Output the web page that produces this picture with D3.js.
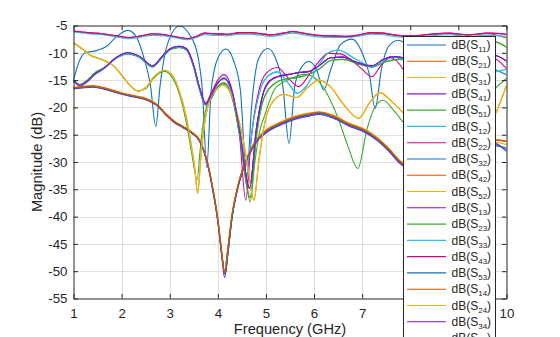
<!DOCTYPE html>
<html><head><meta charset="utf-8">
<script src="https://cdn.jsdelivr.net/npm/d3@7"></script>
<style>
body{margin:0;background:#fff;}
svg{display:block;font-family:"Liberation Sans",Arial,Helvetica,sans-serif;}
</style>
</head><body>
<svg id="chart" width="560" height="337"></svg>
<script>
// ---- tick labels ----
const freqTicks = [1,2,3,4,5,6,7,8,9,10];
const dbTicks = [-55,-50,-45,-40,-35,-30,-25,-20,-15,-10,-5];

// ---- series values: [frequency GHz, magnitude dB] ----
const s11 = [[1,-15],[1.1,-12],[1.24,-10],[1.48,-9.6],[1.69,-8.8],[1.9,-7],[2.13,-5.9],[2.3,-7],[2.45,-10.5],[2.6,-16],[2.71,-23.5],[2.8,-16],[2.95,-8.5],[3.2,-5.1],[3.4,-6.5],[3.58,-10.4],[3.68,-17],[3.77,-31],[3.86,-17],[4.0,-11],[4.17,-9.3],[4.33,-11.5],[4.47,-17],[4.6,-33],[4.7,-20],[4.85,-11],[5.04,-9.2],[5.2,-11],[5.35,-16],[5.48,-26.6],[5.6,-16],[5.75,-12.5],[5.89,-11.6],[6.05,-13],[6.2,-16.8],[6.35,-13],[6.55,-8.5],[6.79,-7.5],[7.0,-10],[7.15,-14],[7.27,-20.2],[7.4,-13],[7.55,-8.8],[7.75,-7.7],[8.0,-9],[8.4,-14],[8.8,-10],[9.2,-9],[9.5,-11],[9.75,-12.9],[10,-14]];

const topMag = [[1,-6.0],[1.3,-6.3],[1.6,-6.5],[1.9,-6.9],[2.15,-7.2],[2.4,-6.9],[2.65,-6.5],[2.9,-6.7],[3.15,-7.1],[3.38,-7.4],[3.55,-7.0],[3.72,-6.4],[3.95,-6.5],[4.2,-6.6],[4.45,-6.3],[4.7,-6.3],[4.9,-6.5],[5.1,-6.7],[5.35,-6.4],[5.55,-6.1],[5.85,-6.5],[6.1,-6.8],[6.4,-6.9],[6.7,-7.0],[6.95,-6.7],[7.2,-6.3],[7.45,-6.4],[7.75,-6.8],[8,-6.9],[8.4,-6.6],[8.8,-6.4],[9.2,-6.7],[9.6,-6.4],[10,-6.6]];
const topCyan = [[1,-6.2],[1.3,-6.5],[1.6,-6.7],[1.9,-7.1],[2.15,-7.4],[2.4,-7.1],[2.65,-6.8],[2.9,-6.9],[3.15,-7.3],[3.38,-7.6],[3.55,-7.2],[3.72,-6.7],[3.95,-6.8],[4.2,-6.9],[4.45,-6.6],[4.7,-6.6],[4.9,-6.8],[5.1,-7.0],[5.35,-6.7],[5.55,-6.4],[5.85,-6.8],[6.1,-7.1],[6.4,-7.2],[6.7,-7.2],[6.95,-6.9],[7.2,-6.6],[7.45,-6.7],[7.75,-7.1],[8,-7.2],[8.4,-6.9],[8.8,-6.7],[9.2,-7.0],[9.6,-6.8],[10,-7.0]];
const topOrange = [[1,-6.1],[1.3,-6.4],[1.6,-6.6],[1.9,-7.0],[2.15,-7.3],[2.4,-7.0],[2.65,-6.6],[2.9,-6.8],[3.15,-7.2],[3.38,-7.5],[3.55,-7.1],[3.72,-6.5],[3.95,-6.6],[4.2,-6.7],[4.45,-6.4],[4.7,-6.4],[4.9,-6.6],[5.1,-6.8],[5.35,-6.5],[5.55,-6.2],[5.85,-6.6],[6.1,-6.9],[6.4,-7.0],[6.7,-7.1],[6.95,-6.8],[7.2,-6.4],[7.45,-6.5],[7.75,-6.9],[8,-7.0],[8.4,-6.7],[8.8,-6.5],[9.2,-6.8],[9.6,-6.5],[10,-7.3]];

const bPurple = [[1,-15.0],[1.13,-15.9],[1.3,-15.1],[1.44,-13.9],[1.62,-12.9],[1.9,-10.8],[2.13,-10.0],[2.38,-10.7],[2.64,-12.4],[2.85,-10.6],[3.0,-9.3],[3.2,-8.8],[3.35,-9.3],[3.5,-12.4],[3.62,-16.4],[3.75,-19.4],[3.85,-18.0],[4.0,-15.5],[4.13,-14.7],[4.3,-17.3],[4.45,-24],[4.66,-34.8],[4.8,-24],[4.95,-17.2],[5.1,-15],[5.24,-14.4],[5.45,-14],[5.7,-13.6],[5.9,-13.4],[6.1,-12.4],[6.35,-10.9],[6.6,-10.8],[6.9,-11.8],[7.2,-12.4],[7.45,-11.2],[7.65,-10.7],[8.0,-11.2],[8.5,-12.5],[9,-11.5],[9.5,-10.2],[9.75,-10.4],[10,-11.5]];
const bCyan = [[1,-15.2],[1.13,-16.0],[1.3,-15.2],[1.44,-14.0],[1.62,-13.0],[1.9,-10.9],[2.13,-10.1],[2.38,-10.8],[2.64,-12.5],[2.85,-10.7],[3.0,-9.4],[3.2,-8.9],[3.35,-9.4],[3.5,-12.6],[3.62,-16.6],[3.75,-19.5],[3.85,-18.3],[4.0,-15.6],[4.13,-14.5],[4.3,-17.6],[4.45,-24],[4.6,-30.6],[4.75,-22],[4.9,-16.3],[5.05,-14.2],[5.24,-13.5],[5.45,-15.4],[5.65,-17.4],[5.85,-16],[6.1,-12.2],[6.3,-10],[6.5,-9.5],[6.8,-10.8],[7.0,-11.8],[7.2,-12.6],[7.4,-11.6],[7.65,-10.8],[8,-11.6],[8.5,-13],[9,-13.5],[9.5,-13],[9.75,-13.4],[10,-13.0]];
const bGreen = [[1,-15.1],[1.13,-15.8],[1.3,-14.9],[1.44,-13.7],[1.62,-12.8],[1.9,-10.9],[2.13,-10.2],[2.38,-10.9],[2.64,-12.6],[2.85,-10.8],[3.0,-9.5],[3.2,-9.0],[3.35,-9.5],[3.5,-12.7],[3.62,-16.8],[3.75,-19.6],[3.85,-18.6],[4.0,-16.2],[4.13,-15.5],[4.3,-18.2],[4.45,-25],[4.67,-36.5],[4.8,-25.5],[4.95,-18.5],[5.2,-15.5],[5.4,-14.8],[5.6,-14.6],[5.8,-14.2],[6.1,-13],[6.35,-11.4],[6.6,-11.2],[6.9,-12],[7.2,-12.6],[7.5,-11.6],[7.75,-11.2],[8,-11.3],[8.5,-11],[9,-9.5],[9.5,-8.2],[9.75,-8.0],[10,-9.0]];
const bMagenta = [[1,-15.2],[1.13,-16.1],[1.3,-15.2],[1.44,-14.0],[1.62,-13.0],[1.9,-10.8],[2.13,-10.1],[2.38,-10.8],[2.64,-12.5],[2.85,-10.6],[3.0,-9.3],[3.2,-8.8],[3.35,-9.2],[3.5,-12.4],[3.62,-16.5],[3.75,-19.2],[3.85,-17.6],[4.0,-15],[4.13,-14.0],[4.3,-17],[4.45,-25],[4.58,-37],[4.7,-25],[4.85,-17],[5.0,-13.8],[5.24,-12.7],[5.45,-14.5],[5.68,-16.2],[5.9,-14],[6.1,-11.6],[6.3,-10.1],[6.55,-10.2],[6.8,-11.5],[7.0,-13],[7.2,-14.4],[7.4,-12.2],[7.6,-10.9],[7.85,-13],[8.0,-15.5],[8.4,-15],[9,-12],[9.5,-10.6],[9.75,-11],[10,-12.9]];

const cYellow = [[1,-8.2],[1.2,-9.4],[1.34,-10.4],[1.61,-11.3],[1.82,-12.3],[2.03,-14.4],[2.2,-16.2],[2.34,-17],[2.5,-16.4],[2.65,-14.6],[2.89,-13.2],[3.05,-14.1],[3.2,-17],[3.35,-22],[3.45,-27],[3.52,-31],[3.58,-35.7],[3.64,-30],[3.68,-26],[3.75,-21.5],[3.85,-18.2],[4.0,-16.5],[4.1,-15.9],[4.25,-17],[4.4,-21],[4.55,-27],[4.65,-32.5],[4.75,-37],[4.85,-30],[4.95,-24],[5.1,-19.5],[5.37,-17.6],[5.64,-18.2],[5.85,-16.5],[6.1,-15],[6.35,-16.3],[6.6,-19.3],[6.93,-22],[7.15,-19.2],[7.37,-17.3],[7.6,-18.8],[7.96,-22],[8.3,-25],[8.8,-27.5],[9.3,-26.5],[9.73,-22],[10,-16]];
const cGreen = [[1,-8.2],[1.2,-9.4],[1.34,-10.4],[1.61,-11.3],[1.82,-12.3],[2.03,-14.4],[2.2,-16.2],[2.34,-17],[2.5,-16.6],[2.65,-14.8],[2.89,-13.4],[3.05,-14.5],[3.2,-17.5],[3.35,-23],[3.45,-28],[3.57,-33.2],[3.63,-28],[3.7,-22.5],[3.8,-19],[3.95,-16.8],[4.1,-15.7],[4.25,-17.2],[4.4,-22],[4.55,-30],[4.67,-37.3],[4.77,-30],[4.88,-24],[4.96,-21.8],[5.17,-16.8],[5.37,-15.3],[5.55,-14.6],[5.8,-13.9],[6.1,-15.3],[6.3,-18],[6.5,-22],[6.7,-27],[6.91,-31.2],[7.1,-24],[7.25,-20.2],[7.44,-18.7],[7.65,-20.5],[7.96,-23.8],[8.3,-26],[8.8,-25],[9.3,-21],[9.73,-16.8],[10,-14.7]];

const lowOrange = [[1,-16.4],[1.4,-16.1],[1.7,-16.6],[2,-17.4],[2.25,-17.9],[2.5,-18.4],[2.75,-19.6],[2.93,-21.3],[3.1,-22.6],[3.27,-23.5],[3.45,-24.5],[3.62,-26],[3.76,-29.2],[3.89,-34.6],[4,-40.5],[4.08,-46.5],[4.14,-50.3],[4.2,-46.5],[4.3,-39.4],[4.4,-35],[4.51,-31.5],[4.65,-28.4],[4.8,-26],[5,-24.3],[5.34,-22.7],[5.6,-21.8],[5.9,-21.2],[6.1,-20.9],[6.4,-21.6],[6.72,-23],[7.06,-24.2],[7.3,-25.6],[7.55,-27.6],[7.8,-30],[8.1,-31.5],[8.5,-32],[9,-30.5],[9.5,-27.5],[9.75,-26],[10,-26.2]];
const lowBlue = [[1,-16.5],[1.4,-16.2],[1.7,-16.7],[2,-17.5],[2.25,-18.0],[2.5,-18.5],[2.75,-19.7],[2.93,-21.4],[3.1,-22.7],[3.27,-23.6],[3.45,-24.6],[3.62,-26.1],[3.76,-29.4],[3.89,-34.8],[4,-40.8],[4.08,-46.8],[4.15,-50.6],[4.21,-46.5],[4.3,-39.8],[4.4,-35.2],[4.51,-31.7],[4.65,-28.6],[4.8,-26.2],[5,-24.5],[5.34,-22.9],[5.6,-22.0],[5.9,-21.4],[6.1,-21.1],[6.4,-21.8],[6.72,-23.2],[7.06,-24.4],[7.3,-25.8],[7.55,-27.8],[7.8,-30.2],[8.1,-31.7],[8.5,-32.2],[9,-30.8],[9.5,-27.2],[9.75,-26.6],[10,-28]];
const lowPurple = [[1,-16.6],[1.4,-16.3],[1.7,-16.8],[2,-17.6],[2.25,-18.1],[2.5,-18.6],[2.75,-19.8],[2.93,-21.5],[3.1,-22.8],[3.27,-23.7],[3.45,-24.7],[3.62,-26.2],[3.76,-29.5],[3.89,-35],[4,-41],[4.08,-47.2],[4.14,-51.2],[4.21,-46.8],[4.3,-40],[4.4,-35.4],[4.51,-31.9],[4.65,-28.8],[4.8,-26.4],[5,-24.7],[5.34,-23.1],[5.6,-22.2],[5.9,-21.6],[6.1,-21.3],[6.4,-22.0],[6.72,-23.4],[7.06,-24.6],[7.3,-26.0],[7.55,-28.0],[7.8,-30.4],[8.1,-31.9],[8.5,-32.4],[9,-31],[9.5,-28],[9.75,-27],[10,-27.5]];
const lowYellow = [[1,-16.3],[1.4,-16.0],[1.7,-16.5],[2,-17.3],[2.25,-17.8],[2.5,-18.3],[2.75,-19.5],[2.93,-21.2],[3.1,-22.5],[3.27,-23.4],[3.45,-24.4],[3.62,-25.9],[3.76,-29.1],[3.89,-34.4],[4,-40.2],[4.08,-46.2],[4.14,-50],[4.2,-46.2],[4.3,-39.2],[4.4,-34.8],[4.51,-31.3],[4.65,-28.2],[4.8,-25.8],[5,-24.1],[5.34,-22.5],[5.6,-21.6],[5.9,-21.0],[6.1,-20.8],[6.4,-21.4],[6.72,-22.8],[7.06,-24.0],[7.3,-25.4],[7.55,-27.4],[7.8,-29.8],[8.1,-31.3],[8.5,-31.8],[9,-30.3],[9.5,-27.8],[9.75,-26.4],[10,-26.8]];

// ---- legend entries (subscripts) and the series each one draws ----
const seriesNames = ["11","21","31","41","51","12","22","32","42","52","13","23","33","43","53","14","24","34","44","54","15","25","35","45","55"];
const seriesData = [s11,lowOrange,cYellow,bPurple,cGreen,bCyan,topMag,lowBlue,topOrange,lowYellow,lowPurple,bGreen,topCyan,bMagenta,lowBlue,lowOrange,cYellow,bPurple,bGreen,bCyan,topMag,lowBlue,lowOrange,cYellow,bPurple];
const palette = ["#1171BE","#DD5400","#EDB120","#8516D1","#3BAA32","#2FBEEF","#D1048B"];

// ---- drawing ----
const svg = d3.select("#chart");
const m = {l:73.5, r:506.5, t:25.5, b:298.5};
const x = d3.scaleLinear().domain([1,10]).range([m.l,m.r]);
const y = d3.scaleLinear().domain([-55,-5]).range([m.b,m.t]);
const ink = "#262626";

svg.append("rect").attr("width",560).attr("height",337).attr("fill","#fff");
svg.append("defs").append("clipPath").attr("id","plotclip").append("rect")
  .attr("x",m.l).attr("y",m.t).attr("width",m.r-m.l).attr("height",m.b-m.t);

// grid
const grid = svg.append("g").attr("stroke","#dfdfdf").attr("stroke-width",1);
grid.selectAll(".gx").data(freqTicks.slice(1,-1)).join("line")
  .attr("x1",d=>Math.round(x(d))+0.5).attr("x2",d=>Math.round(x(d))+0.5).attr("y1",m.t).attr("y2",m.b);
grid.selectAll(".gy").data(dbTicks.slice(1,-1)).join("line")
  .attr("y1",d=>Math.round(y(d))+0.5).attr("y2",d=>Math.round(y(d))+0.5).attr("x1",m.l).attr("x2",m.r);

// traces
const line = d3.line().x(d=>x(d[0])).y(d=>y(d[1])).curve(d3.curveMonotoneX);
const traces = svg.append("g").attr("clip-path","url(#plotclip)");
seriesData.forEach((data,i)=>{
  traces.append("path").attr("d",line(data)).attr("fill","none")
    .attr("stroke",palette[i%7]).attr("stroke-width",1.1).attr("stroke-linejoin","round");
});

// axes
const fs = "13.33px";
const axB = svg.append("g").attr("transform",`translate(0,${m.b})`)
  .call(d3.axisBottom(x).tickValues(freqTicks).tickFormat(d3.format("d")).tickSizeInner(-4.5).tickSizeOuter(0).tickPadding(10.5));
const axL = svg.append("g").attr("transform",`translate(${m.l},0)`)
  .call(d3.axisLeft(y).tickValues(dbTicks).tickFormat(d3.format("d")).tickSizeInner(-4.5).tickSizeOuter(0).tickPadding(6));
const axT = svg.append("g").attr("transform",`translate(0,${m.t})`)
  .call(d3.axisTop(x).tickValues(freqTicks).tickFormat("").tickSizeInner(-4.5).tickSizeOuter(0));
const axR = svg.append("g").attr("transform",`translate(${m.r},0)`)
  .call(d3.axisRight(y).tickValues(dbTicks).tickFormat("").tickSizeInner(-4.5).tickSizeOuter(0));
[axB,axL,axT,axR].forEach(a=>{
  a.select(".domain").attr("stroke",ink).attr("stroke-width",1);
  a.selectAll(".tick line").attr("stroke",ink).attr("stroke-width",1);
  a.selectAll("text").attr("fill",ink).style("font-size",fs).style("font-family","'Liberation Sans',Arial,sans-serif");
});
axL.selectAll("text").text(d=>d<0 ? "-"+Math.abs(d) : d);

// axis titles
svg.append("text").attr("x",(m.l+m.r)/2).attr("y",334).attr("text-anchor","middle")
  .attr("fill",ink).style("font-size","14.67px").text("Frequency (GHz)");
svg.append("text").attr("transform",`translate(42,${(m.t+m.b)/2}) rotate(-90)`).attr("text-anchor","middle")
  .attr("fill",ink).style("font-size","14.67px").text("Magnitude (dB)");

// legend
const lg = svg.append("g");
const lx = 403.5, ly = 36.5, rowH = 16.28;
lg.append("rect").attr("x",lx).attr("y",ly).attr("width",92).attr("height",seriesNames.length*rowH+4)
  .attr("fill","#fff").attr("stroke",ink).attr("stroke-width",1);
seriesNames.forEach((nm,i)=>{
  const cy = 45 + i*rowH;
  lg.append("line").attr("x1",407).attr("x2",446).attr("y1",cy).attr("y2",cy)
    .attr("stroke",palette[i%7]).attr("stroke-width",1.1);
  const t = lg.append("text").attr("x",451.5).attr("y",cy+4.2).attr("fill",ink).style("font-size","12px");
  t.append("tspan").text("dB(S");
  t.append("tspan").attr("dy",3).style("font-size","8px").text(nm);
  t.append("tspan").attr("dy",-3).text(")");
});
</script>
</body></html>
